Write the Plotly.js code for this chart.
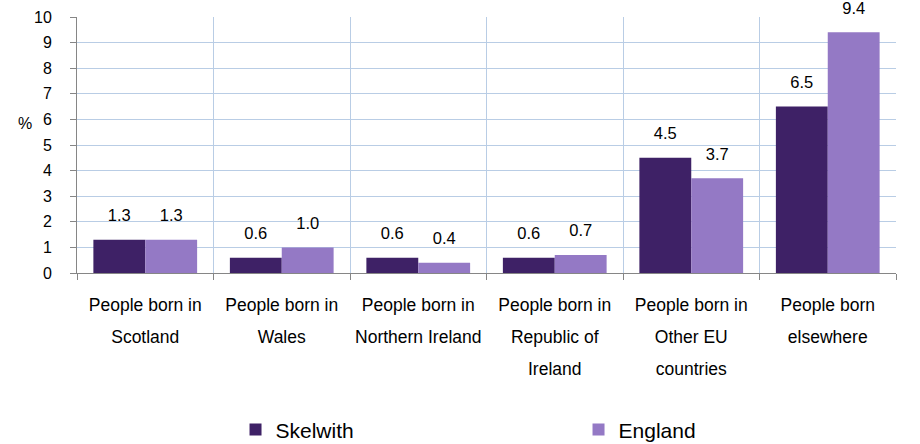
<!DOCTYPE html>
<html>
<head>
<meta charset="utf-8">
<script src="https://cdn.plot.ly/plotly-3.0.1.min.js"></script>
<style>html,body{margin:0;padding:0;background:#fff;}#chart{width:920px;height:444px;}</style>
</head>
<body>
<div id="chart"></div>
<script>
const categories = [
  ["People born in", "Scotland"],
  ["People born in", "Wales"],
  ["People born in", "Northern Ireland"],
  ["People born in", "Republic of", "Ireland"],
  ["People born in", "Other EU", "countries"],
  ["People born", "elsewhere"]
];
const skelwith = [1.3, 0.6, 0.6, 0.6, 4.5, 6.5];
const england = [1.3, 1.0, 0.4, 0.7, 3.7, 9.4];
const seriesNames = ["Skelwith", "England"];
const yTicks = [0,1,2,3,4,5,6,7,8,9,10];

const FONT = "Liberation Sans, Arial, sans-serif";
const xPos = categories.map((c, i) => i);
const tickText = categories.map(lines => lines.map(l => '<span style="font-size:17.5px">' + l + '</span>').join('<br>'));
const boundaries = [-0.5].concat(xPos.map(i => i + 0.5));

function barTrace(name, vals, color) {
  return {
    type: 'bar', name: name, x: xPos, y: vals,
    marker: {color: color, line: {width: 0}},
    texttemplate: '<span style="font-size:16.5px">%{y:.1f}</span><br>&nbsp;', textposition: 'outside', cliponaxis: false,
    textfont: {family: FONT, size: 10.5, color: '#000'},
    hoverinfo: 'skip'
  };
}

const data = [
  barTrace(seriesNames[0], skelwith, '#3E2166'),
  barTrace(seriesNames[1], england, '#9479C5'),
  {type: 'scatter', x: [0], y: [0], xaxis: 'x2', mode: 'none', showlegend: false, hoverinfo: 'skip'}
];

const layout = {
  width: 920, height: 444,
  margin: {l: 77, r: 24, t: 17, b: 171},
  paper_bgcolor: '#fff', plot_bgcolor: '#fff',
  font: {family: FONT, color: '#000'},
  barmode: 'group', bargap: 0.24, bargroupgap: 0,
  xaxis: {
    type: 'linear', range: [-0.5, 5.5], tickmode: 'array', tickvals: xPos, ticktext: tickText,
    ticks: '', showgrid: false, zeroline: false, showline: true, linecolor: '#868686', linewidth: 1,
    tickfont: {family: FONT, size: 24.5, color: '#000'}, ticklabelstandoff: 8, fixedrange: true
  },
  xaxis2: {
    overlaying: 'x', matches: 'x', side: 'bottom', type: 'linear', range: [-0.5, 5.5],
    tickmode: 'array', tickvals: boundaries, showticklabels: false,
    ticks: 'outside', ticklen: 6, tickcolor: '#868686', tickwidth: 1,
    showgrid: true, gridcolor: '#B9CDE5', gridwidth: 1, zeroline: false, showline: false
  },
  yaxis: {
    range: [0, 10], tickmode: 'array', tickvals: yTicks,
    ticks: 'outside', ticklen: 6, tickcolor: '#868686', showline: true, linecolor: '#868686',
    showgrid: true, gridcolor: '#B9CDE5', gridwidth: 1, zeroline: false,
    tickfont: {family: FONT, size: 16, color: '#000'}, ticklabelstandoff: 15
  },
  annotations: [{
    text: '%', xref: 'paper', yref: 'y', x: 0, y: 5.85, xshift: -52, xanchor: 'center', yanchor: 'middle',
    showarrow: false, font: {family: FONT, size: 16, color: '#000'}
  }],
  legend: {
    orientation: 'h', xref: 'container', yref: 'container', x: 0.256, y: 0.032,
    xanchor: 'left', yanchor: 'middle', entrywidth: 298, entrywidthmode: 'pixels',
    font: {family: FONT, size: 21, color: '#000'}, itemclick: false, itemdoubleclick: false
  },
  showlegend: true
};

Plotly.newPlot('chart', data, layout, {displayModeBar: false, staticPlot: true});
</script>
</body>
</html>
